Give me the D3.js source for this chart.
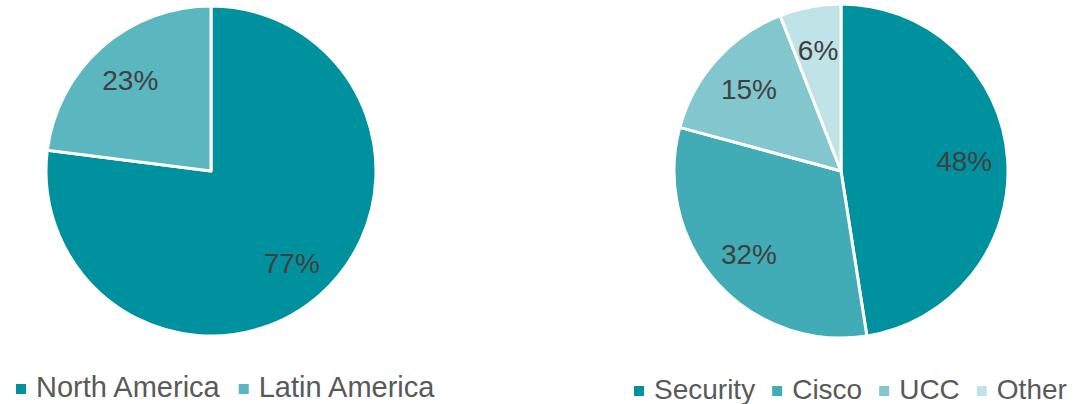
<!DOCTYPE html>
<html>
<head>
<meta charset="utf-8">
<script src="https://cdn.jsdelivr.net/npm/d3@7"></script>
<style>
  body { margin: 0; background: #fff; }
  svg { display: block; font-family: "Liberation Sans", Arial, sans-serif; }
</style>
</head>
<body>
<svg id="chart" width="1081" height="404"></svg>
<script>
// left pie: region split
var regionLabels = ["North America", "Latin America"];
var regionValues = [77, 23];
var regionColors = ["#00919e", "#5ab6bf"];

// right pie: segment split
var segmentLabels = ["Security", "Cisco", "UCC", "Other"];
var segmentValues = [48, 32, 15, 6];
var segmentColors = ["#00919e", "#41acb5", "#82c7cd", "#bfe3e7"];

var svg = d3.select("#chart");

// draw one pie plus its legend
function drawPie(labels, values, colors, cx, cy, r, legendX, legendY, legendSize, legendGap) {
  var data = labels.map(function (l, i) { return { label: l, value: values[i], color: colors[i] }; });

  var pie = d3.pie()
    .sort(null)
    .value(function (d) { return d.value; });

  var arc = d3.arc().innerRadius(0).outerRadius(r);
  var labelArc = d3.arc().innerRadius(r * 0.74).outerRadius(r * 0.74);

  var g = svg.append("g")
    .attr("transform", "translate(" + cx + "," + cy + ")");

  var total = d3.sum(values);
  var arcs = pie(data);

  g.selectAll("path")
    .data(arcs)
    .enter()
    .append("path")
    .attr("d", arc)
    .attr("fill", function (d) { return d.data.color; })
    .attr("stroke", "#fff")
    .attr("stroke-width", 3)
    .attr("stroke-linejoin", "round");

  g.selectAll("text")
    .data(arcs)
    .enter()
    .append("text")
    .attr("transform", function (d) { return "translate(" + labelArc.centroid(d) + ")"; })
    .attr("text-anchor", "middle")
    .attr("dy", "0.36em")
    .attr("font-size", 28)
    .attr("fill", "#404040")
    .text(function (d) { return Math.round(d.data.value / total * 100) + "%"; });

  // legend
  var lg = svg.append("g");
  var x = legendX;
  data.forEach(function (d) {
    lg.append("rect")
      .attr("x", x)
      .attr("y", legendY - 13)
      .attr("width", 10)
      .attr("height", 10)
      .attr("fill", d.color);
    var t = lg.append("text")
      .attr("x", x + 20)
      .attr("y", legendY)
      .attr("font-size", legendSize)
      .attr("fill", "#595959")
      .text(d.label);
    x += 20 + t.node().getComputedTextLength() + legendGap;
  });
}

drawPie(regionLabels, regionValues, regionColors, 211, 171, 165, 16, 397, 29, 19);
drawPie(segmentLabels, segmentValues, segmentColors, 841, 171, 167, 634, 399, 28, 17);
</script>
</body>
</html>
